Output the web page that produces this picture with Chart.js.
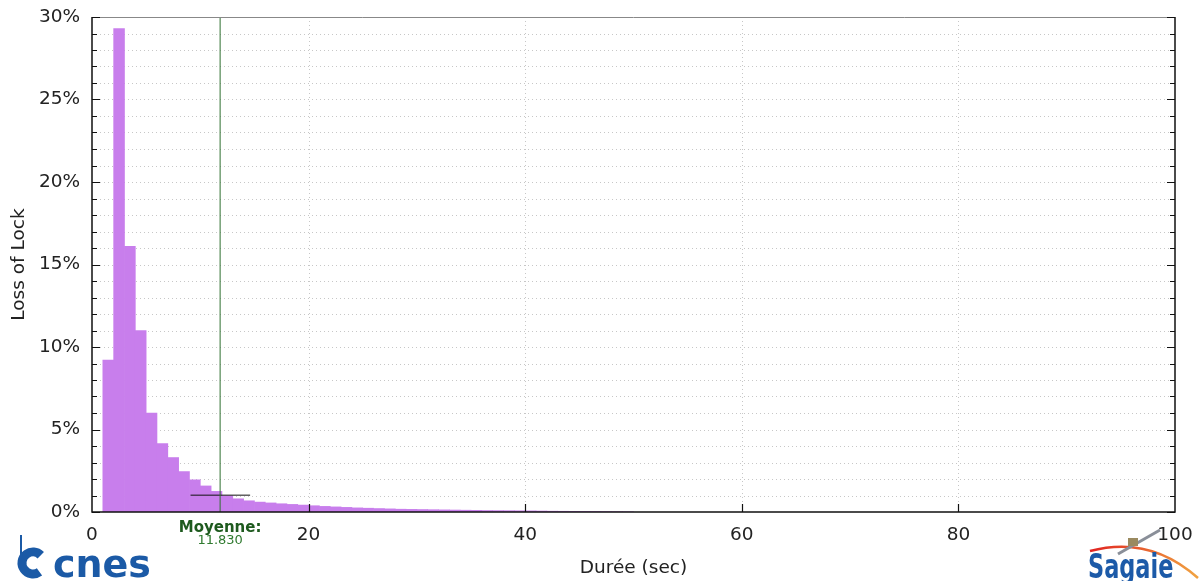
<!DOCTYPE html>
<html>
<head>
<meta charset="utf-8">
<script src="https://cdn.jsdelivr.net/npm/chart.js@4"></script>
<style>
  html, body { margin: 0; padding: 0; background: #fff; }
  #wrap { width: 1204px; height: 581px; }
</style>
</head>
<body>
<div id="wrap"><canvas id="mychart" width="1204" height="581"></canvas></div>
<script>
// histogram bins: [start, start+1) seconds
const binStarts = [1,2,3,4,5,6,7,8,9,10,11,12,13,14,15,16,17,18,19,20,21,22,23,24,25,
  26,27,28,29,30,31,32,33,34,35,36,37,38,39,40,41,42,43,44,45,46,47,48,49];
const lossPct = [9.2,29.3,16.1,11.0,6.0,4.15,3.3,2.45,1.95,1.58,1.25,0.98,0.8,0.68,0.6,
  0.55,0.5,0.46,0.42,0.38,0.34,0.31,0.28,0.25,0.23,0.21,0.19,0.17,0.16,0.15,
  0.14,0.13,0.12,0.11,0.1,0.09,0.085,0.08,0.075,0.07,0.06,0.05,0.045,0.04,0.035,0.03,0.025,0.02,0.015];
const meanValue = 11.83;
const spreadX = [9.1, 14.6];
const spreadY = 1.02;
const xTicks = [0, 20, 40, 60, 80, 100];
const yMajor = [0, 5, 10, 15, 20, 25, 30];

const font = "'DejaVu Sans', sans-serif";

const frame = {
  id: 'frame',
  beforeDatasetsDraw(chart) {
    const { ctx, chartArea: a, scales: { x, y } } = chart;
    ctx.save();
    ctx.strokeStyle = 'rgba(0,0,0,0.22)';
    ctx.lineWidth = 1;
    ctx.setLineDash([1, 3]);
    for (let v = 1; v < 30; v++) {
      const py = Math.round(y.getPixelForValue(v)) + 0.5;
      ctx.beginPath(); ctx.moveTo(a.left, py); ctx.lineTo(a.right, py); ctx.stroke();
    }
    xTicks.slice(1, -1).forEach(v => {
      const px = Math.round(x.getPixelForValue(v)) + 0.5;
      ctx.beginPath(); ctx.moveTo(px, a.top); ctx.lineTo(px, a.bottom); ctx.stroke();
    });
    ctx.restore();
  },
  afterDraw(chart) {
    const { ctx, chartArea: a, scales: { x, y } } = chart;
    ctx.save();
    // frame
    ctx.lineWidth = 1;
    ctx.strokeStyle = '#888';
    ctx.beginPath(); ctx.moveTo(a.left, a.top + 0.5); ctx.lineTo(a.right, a.top + 0.5); ctx.stroke();
    ctx.strokeStyle = '#111';
    ctx.lineWidth = 1.5;
    ctx.beginPath();
    ctx.moveTo(a.left, a.top); ctx.lineTo(a.left, a.bottom); ctx.lineTo(a.right, a.bottom); ctx.lineTo(a.right, a.top);
    ctx.stroke();
    // inward ticks
    ctx.lineWidth = 1.2;
    for (let v = 0; v <= 30; v++) {
      const py = Math.round(y.getPixelForValue(v)) + 0.5;
      const len = v % 5 === 0 ? 8 : 5;
      ctx.beginPath();
      ctx.moveTo(a.left, py); ctx.lineTo(a.left + len, py);
      ctx.moveTo(a.right, py); ctx.lineTo(a.right - len, py);
      ctx.stroke();
    }
    xTicks.slice(1, -1).forEach(v => {
      const px = Math.round(x.getPixelForValue(v)) + 0.5;
      ctx.beginPath(); ctx.moveTo(px, a.bottom); ctx.lineTo(px, a.bottom - 8); ctx.stroke();
    });
    // mean label
    const mx = x.getPixelForValue(meanValue);
    ctx.textAlign = 'center';
    ctx.fillStyle = '#1e5a1e';
    ctx.font = 'bold 15px ' + font;
    ctx.fillText('Moyenne:', mx, 532);
    ctx.fillStyle = '#2f7a2f';
    ctx.font = '13px ' + font;
    ctx.fillText(meanValue.toFixed(3), mx, 544);

    // cnes logo
    ctx.fillStyle = '#1b5aa6';
    ctx.strokeStyle = '#1b5aa6';
    ctx.lineWidth = 9;
    ctx.beginPath(); ctx.arc(33, 563, 11, 0.3 * Math.PI, 1.75 * Math.PI); ctx.stroke();
    ctx.lineWidth = 2;
    ctx.beginPath(); ctx.moveTo(21, 535); ctx.lineTo(21, 556); ctx.stroke();
    ctx.textAlign = 'left';
    ctx.font = 'bold 38px ' + font;
    ctx.fillText('cnes', 53, 577);

    // sagaie logo
    const g = ctx.createLinearGradient(1088, 0, 1195, 0);
    g.addColorStop(0, '#e02020'); g.addColorStop(1, '#f0a040');
    ctx.strokeStyle = g;
    ctx.lineWidth = 2.5;
    ctx.beginPath(); ctx.moveTo(1090, 551); ctx.quadraticCurveTo(1150, 535, 1198, 578); ctx.stroke();
    ctx.strokeStyle = '#8a8f99';
    ctx.lineWidth = 3;
    ctx.beginPath(); ctx.moveTo(1118, 554); ctx.lineTo(1160, 530); ctx.stroke();
    ctx.fillStyle = '#9a8a60';
    ctx.fillRect(1128, 538, 10, 8);
    ctx.fillStyle = '#1c5aa8';
    ctx.font = 'bold 34px ' + font;
    ctx.translate(1088, 578);
    ctx.scale(0.66, 1);
    ctx.fillText('Sagaie', 0, 0);
    ctx.restore();
  }
};

new Chart(document.getElementById('mychart'), {
  type: 'bar',
  data: {
    datasets: [{
      data: binStarts.map((s, i) => ({ x: s + 0.5, y: lossPct[i] })),
      backgroundColor: '#c87eec',
      borderWidth: 0,
      barPercentage: 1,
      categoryPercentage: 1,
      order: 2
    }, {
      type: 'line',
      data: [{ x: meanValue, y: 0 }, { x: meanValue, y: 30 }],
      borderColor: '#2f7030',
      borderWidth: 1,
      pointRadius: 0,
      order: 1
    }, {
      type: 'line',
      data: [{ x: spreadX[0], y: spreadY }, { x: spreadX[1], y: spreadY }],
      borderColor: '#111',
      borderWidth: 1,
      pointRadius: 0,
      order: 1
    }]
  },
  options: {
    responsive: false,
    animation: false,
    layout: { padding: { left: 8, top: 17, right: 29, bottom: 0 } },
    plugins: { legend: { display: false }, tooltip: { enabled: false } },
    scales: {
      x: {
        type: 'linear',
        offset: false,
        min: 0, max: 100,
        afterFit: s => { s.height = 69; s.paddingRight = 0; },
        afterBuildTicks: s => { s.ticks = xTicks.map(v => ({ value: v })); },
        grid: { display: false, drawTicks: false },
        border: { display: false },
        ticks: { color: '#222', font: { family: font, size: 18.5 }, padding: 12, maxRotation: 0 },
        title: { display: true, text: 'Durée (sec)', color: '#222', font: { family: font, size: 18.5 }, padding: { top: 0, bottom: 2 } }
      },
      y: {
        min: 0, max: 30,
        afterFit: s => { s.width = 84; s.paddingTop = 0; s.paddingBottom = 0; },
        afterBuildTicks: s => { s.ticks = yMajor.map(v => ({ value: v })); },
        grid: { display: false, drawTicks: false },
        border: { display: false },
        ticks: { color: '#222', font: { family: font, size: 18.5 }, padding: 12, callback: v => v + '%' },
        title: { display: true, text: 'Loss of Lock', color: '#222', font: { family: font, size: 18.5 }, padding: 0 }
      }
    }
  },
  plugins: [frame]
});
</script>
</body>
</html>
